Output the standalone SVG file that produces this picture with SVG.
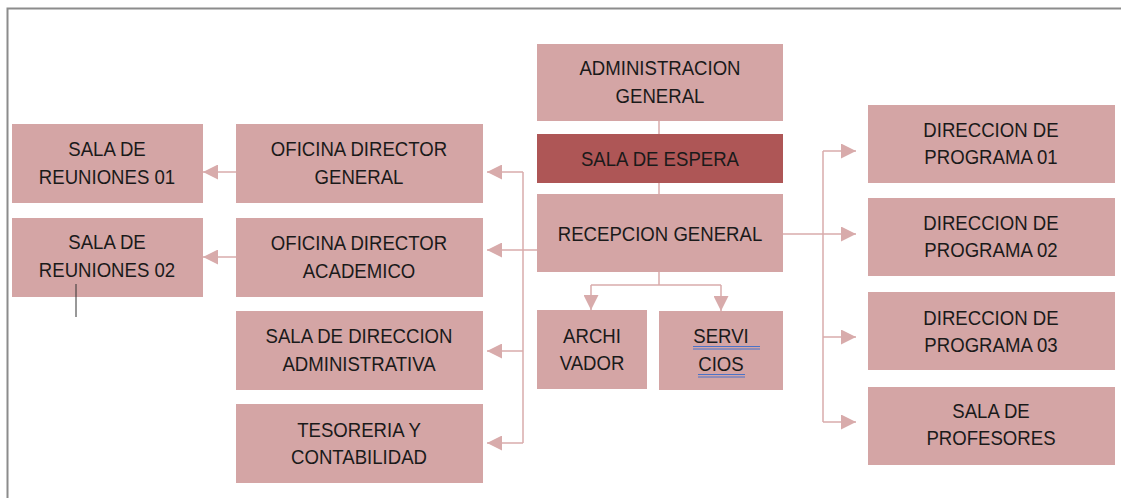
<svg xmlns="http://www.w3.org/2000/svg" width="1121" height="498" viewBox="0 0 1121 498">
<defs>
<style>
.box{fill:#d4a5a5;}
.dark{fill:#ae5656;}
.t{font-family:"Liberation Sans",Arial,sans-serif;font-size:20px;fill:#1a1a1a;text-anchor:middle;transform-box:fill-box;transform-origin:center;transform:scaleX(0.93);}
.c{fill:none;stroke:#d8abab;stroke-width:1.5;}
.ul{stroke:#4a72c8;stroke-width:1;}
</style>
<marker id="ab" viewBox="0 0 12 12" refX="12" refY="6" markerWidth="16" markerHeight="15" markerUnits="userSpaceOnUse" orient="auto">
<path d="M0,0 L12,6 L0,12 z" fill="#d8abab"/>
</marker>
</defs>
<rect width="1121" height="498" fill="#ffffff"/>
<path d="M7.5,498 V8.5 H1121" fill="none" stroke="#8c8c8c" stroke-width="2"/>

<g id="connectors">
<path class="c" d="M659,121 V134"/>
<path class="c" d="M659,183 V194"/>
<path class="c" d="M236,172 H203" marker-end="url(#ab)"/>
<path class="c" d="M236,257 H203" marker-end="url(#ab)"/>
<path class="c" d="M537,250 H487" marker-end="url(#ab)"/>
<path class="c" d="M523,172 H487" marker-end="url(#ab)"/>
<path class="c" d="M523,351 H487" marker-end="url(#ab)"/>
<path class="c" d="M523,443 H487" marker-end="url(#ab)"/>
<path class="c" d="M523,172 V443"/>
<path class="c" d="M659,272 V285"/>
<path class="c" d="M591,285 H721"/>
<path class="c" d="M591,285 V310" marker-end="url(#ab)"/>
<path class="c" d="M721,285 V311" marker-end="url(#ab)"/>
<path class="c" d="M783,234 H856" marker-end="url(#ab)"/>
<path class="c" d="M823,151 V422"/>
<path class="c" d="M823,151 H856" marker-end="url(#ab)"/>
<path class="c" d="M823,337 H856" marker-end="url(#ab)"/>
<path class="c" d="M823,422 H856" marker-end="url(#ab)"/>
</g>

<g id="admin-general">
<rect class="box" x="537" y="44" width="246" height="77"/>
<text class="t" x="660" y="75">ADMINISTRACION</text>
<text class="t" x="660" y="103">GENERAL</text>
</g>
<g id="sala-espera">
<rect class="dark" x="537" y="134" width="246" height="49"/>
<text class="t" x="660" y="166">SALA DE ESPERA</text>
</g>
<g id="recepcion">
<rect class="box" x="537" y="194" width="246" height="78"/>
<text class="t" x="660" y="241">RECEPCION GENERAL</text>
</g>
<g id="archivador">
<rect class="box" x="537" y="310" width="110" height="79"/>
<text class="t" x="592" y="343">ARCHI</text>
<text class="t" x="592" y="370">VADOR</text>
</g>
<g id="servicios">
<rect class="box" x="659" y="311" width="124" height="79"/>
<text class="t" x="721" y="343">SERVI </text>
<text class="t" x="721" y="371">CIOS</text>
<line class="ul" x1="693" y1="346.5" x2="760" y2="346.5"/>
<line class="ul" x1="693" y1="349" x2="760" y2="349"/>
<line class="ul" x1="698" y1="374.5" x2="745" y2="374.5"/>
<line class="ul" x1="698" y1="377" x2="745" y2="377"/>
</g>

<g id="sala-reuniones-01">
<rect class="box" x="12" y="124" width="191" height="79"/>
<text class="t" x="107" y="156">SALA DE</text>
<text class="t" x="107" y="184">REUNIONES 01</text>
</g>
<g id="sala-reuniones-02">
<rect class="box" x="12" y="218" width="191" height="79"/>
<text class="t" x="107" y="249">SALA DE</text>
<text class="t" x="107" y="277">REUNIONES 02</text>
<line x1="76" y1="284" x2="76" y2="317" stroke="#333" stroke-width="1"/>
</g>
<g id="oficina-director-general">
<rect class="box" x="236" y="124" width="247" height="79"/>
<text class="t" x="359" y="156">OFICINA DIRECTOR</text>
<text class="t" x="359" y="184">GENERAL</text>
</g>
<g id="oficina-director-academico">
<rect class="box" x="236" y="218" width="247" height="79"/>
<text class="t" x="359" y="250">OFICINA DIRECTOR</text>
<text class="t" x="359" y="278">ACADEMICO</text>
</g>
<g id="sala-direccion-administrativa">
<rect class="box" x="236" y="311" width="247" height="79"/>
<text class="t" x="359" y="343">SALA DE DIRECCION</text>
<text class="t" x="359" y="371">ADMINISTRATIVA</text>
</g>
<g id="tesoreria">
<rect class="box" x="236" y="404" width="247" height="79"/>
<text class="t" x="359" y="437">TESORERIA Y</text>
<text class="t" x="359" y="464">CONTABILIDAD</text>
</g>

<g id="direccion-programa-01">
<rect class="box" x="868" y="105" width="247" height="78"/>
<text class="t" x="991" y="137">DIRECCION DE</text>
<text class="t" x="991" y="164">PROGRAMA 01</text>
</g>
<g id="direccion-programa-02">
<rect class="box" x="868" y="198" width="247" height="78"/>
<text class="t" x="991" y="230">DIRECCION DE</text>
<text class="t" x="991" y="257">PROGRAMA 02</text>
</g>
<g id="direccion-programa-03">
<rect class="box" x="868" y="292" width="247" height="78"/>
<text class="t" x="991" y="325">DIRECCION DE</text>
<text class="t" x="991" y="352">PROGRAMA 03</text>
</g>
<g id="sala-profesores">
<rect class="box" x="868" y="387" width="247" height="78"/>
<text class="t" x="991" y="418">SALA DE</text>
<text class="t" x="991" y="445">PROFESORES</text>
</g>
</svg>
